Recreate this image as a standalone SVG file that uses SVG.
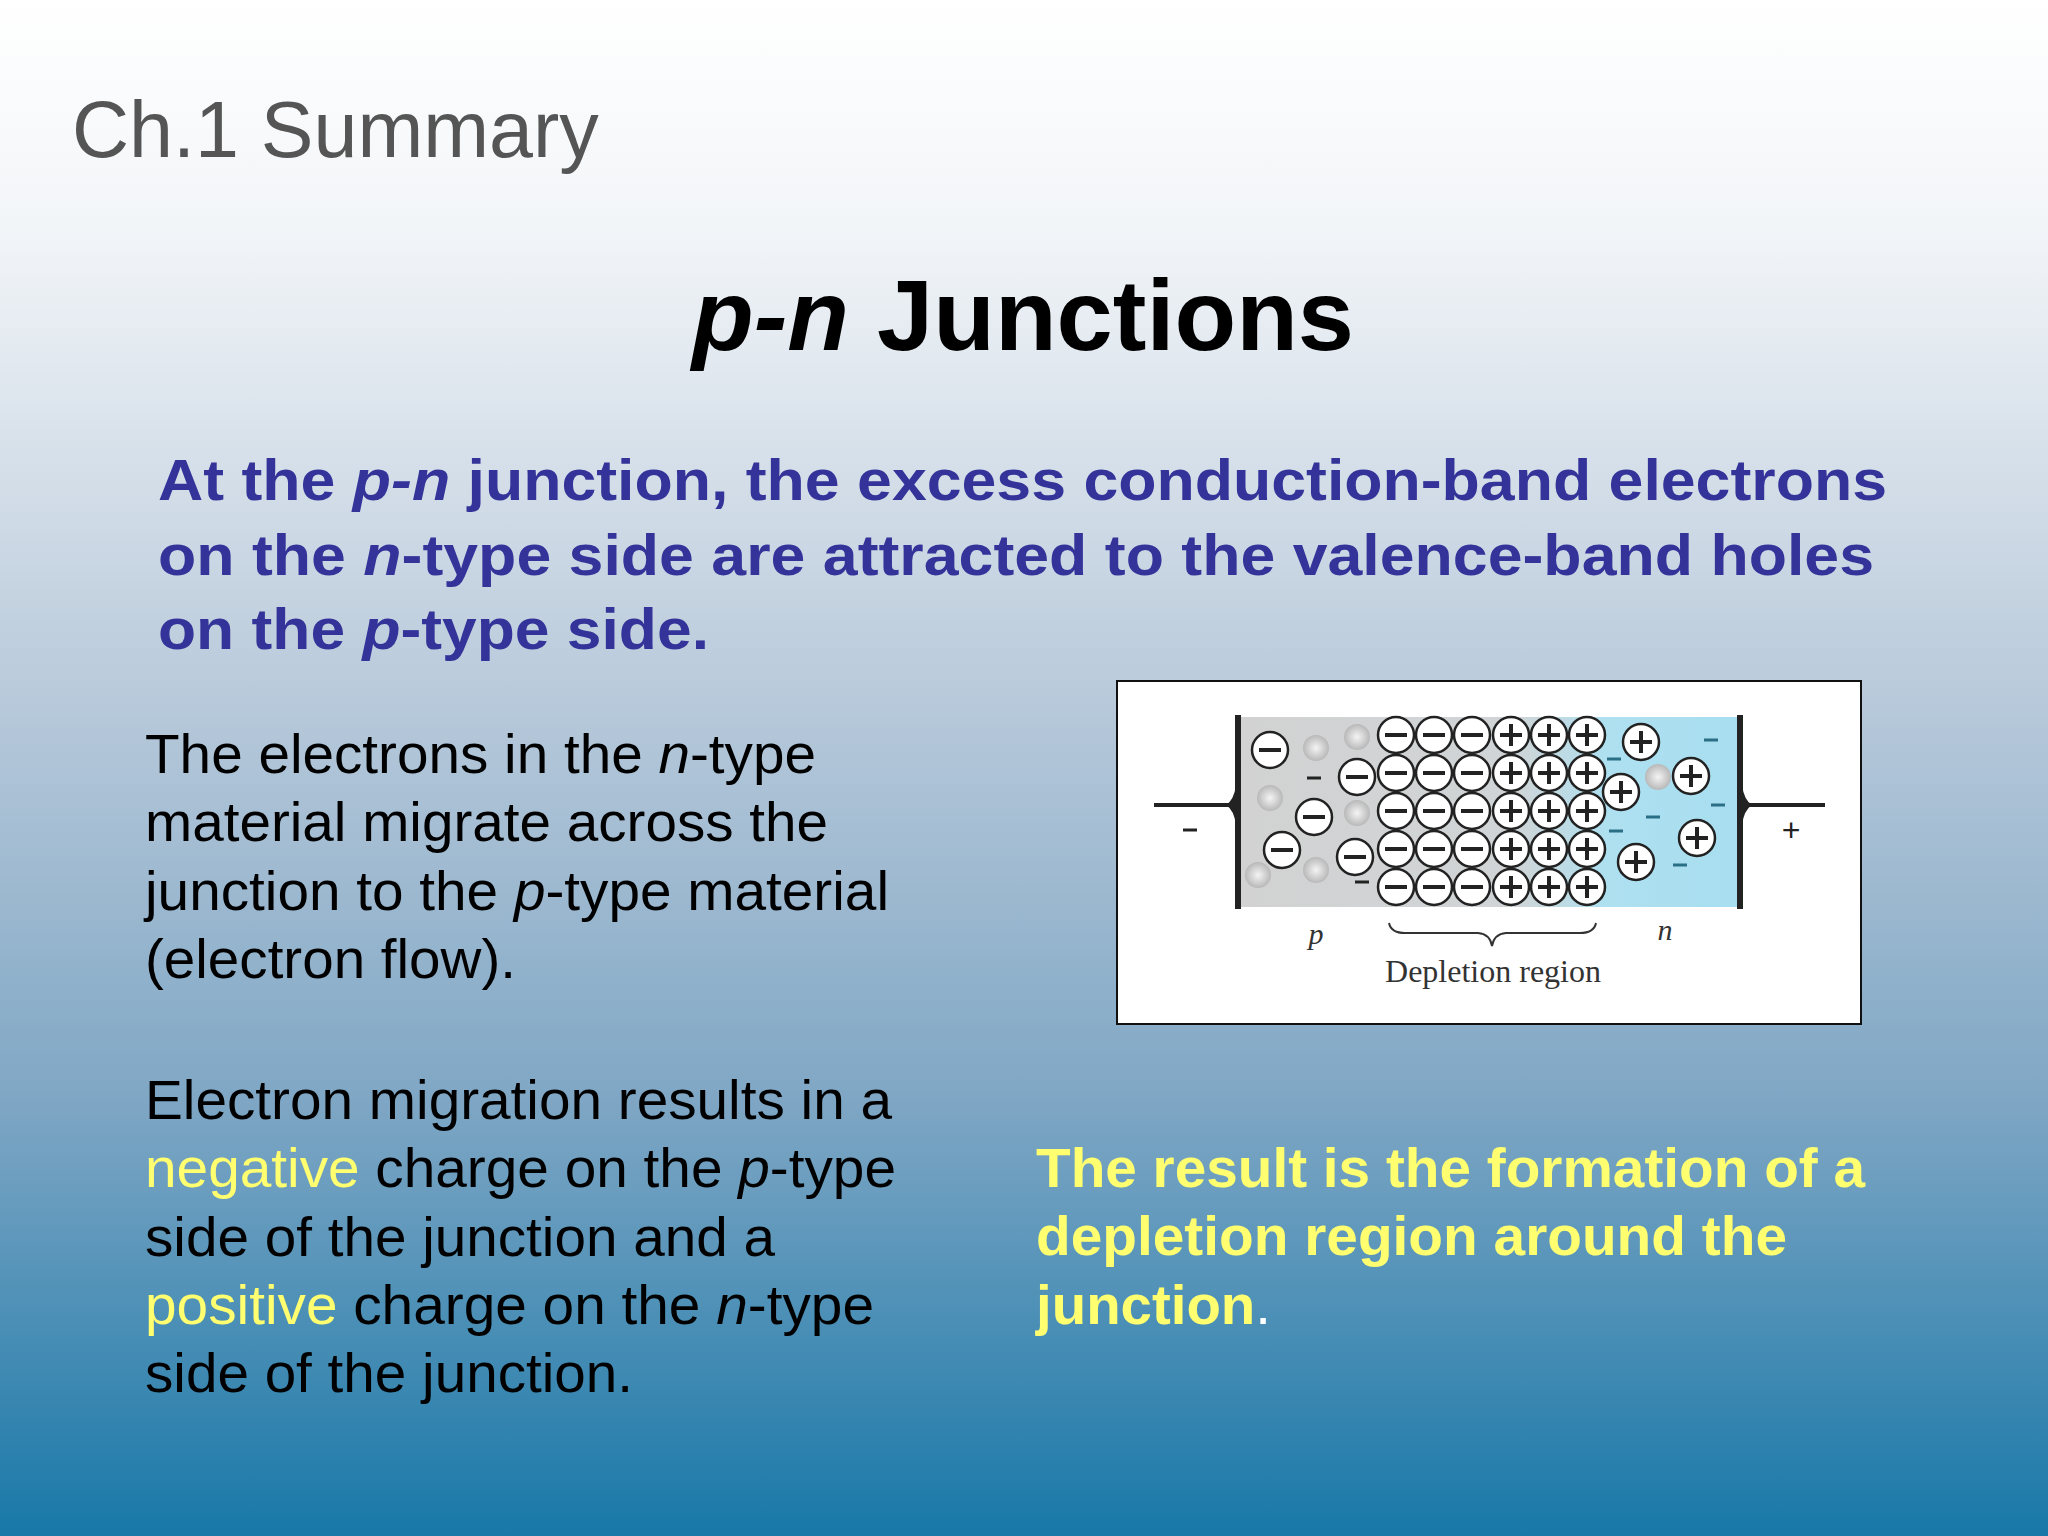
<svg xmlns="http://www.w3.org/2000/svg" xmlns:xlink="http://www.w3.org/1999/xlink" width="2048" height="1536" viewBox="0 0 2048 1536">
<defs>
<linearGradient id="bg" x1="0" y1="0" x2="0" y2="1">
<stop offset="0" stop-color="#ffffff"/><stop offset="0.15" stop-color="#f2f5f8"/><stop offset="0.45" stop-color="#b9cadb"/><stop offset="0.72" stop-color="#7ea6c4"/><stop offset="1" stop-color="#1878a8"/>
</linearGradient>
<linearGradient id="mat" x1="0" y1="0" x2="1" y2="0">
<stop offset="0" stop-color="#d2d2d2"/><stop offset="0.55" stop-color="#d0d4d6"/><stop offset="0.73" stop-color="#aee0f0"/><stop offset="1" stop-color="#a8def0"/>
</linearGradient>
<radialGradient id="hole"><stop offset="0" stop-color="#f4f4f4"/><stop offset="1" stop-color="#b8b8b8"/></radialGradient>
<g id="neg"><circle r="18" fill="#fff" stroke="#222" stroke-width="2.5"/><line x1="-11" y1="0" x2="11" y2="0" stroke="#222" stroke-width="4"/></g>
<g id="pos"><circle r="18" fill="#fff" stroke="#222" stroke-width="2.5"/><line x1="-11" y1="0" x2="11" y2="0" stroke="#222" stroke-width="4"/><line x1="0" y1="-11" x2="0" y2="11" stroke="#222" stroke-width="4"/></g>
<circle id="h" r="13" fill="url(#hole)"/>
<line id="d" x1="-7" y1="0" x2="7" y2="0" stroke="#2a6f86" stroke-width="3"/>
<line id="dk" x1="-7" y1="0" x2="7" y2="0" stroke="#222" stroke-width="3"/>
</defs>
<style>
.s{font-family:"Liberation Sans",Arial,sans-serif}
.b{font-weight:bold}
.blue{fill:#333399;font-size:57px;font-weight:bold}
.blk{fill:#000;font-size:55px}
.yel{fill:#ffff70}
.serif{font-family:"Liberation Serif","Times New Roman",serif;fill:#333}
</style>
<rect width="2048" height="1536" fill="url(#bg)"/>
<text class="s" x="72" y="157" font-size="79" fill="#555">Ch.1 Summary</text>
<text class="s b" x="1023" y="350" font-size="101" text-anchor="middle" fill="#000"><tspan font-style="italic">p-n</tspan> Junctions</text>
<g id="intro" class="s blue">
<text x="158" y="500" textLength="1729" lengthAdjust="spacingAndGlyphs">At the <tspan font-style="italic">p-n</tspan> junction, the excess conduction-band electrons</text>
<text x="158" y="575" textLength="1716" lengthAdjust="spacingAndGlyphs">on the <tspan font-style="italic">n</tspan>-type side are attracted to the valence-band holes</text>
<text x="158" y="649" textLength="551" lengthAdjust="spacingAndGlyphs">on the <tspan font-style="italic">p</tspan>-type side.</text>
</g>
<g id="para1" class="s blk">
<text x="145" y="773" textLength="671" lengthAdjust="spacingAndGlyphs">The electrons in the <tspan font-style="italic">n</tspan>-type</text>
<text x="145" y="841" textLength="683" lengthAdjust="spacingAndGlyphs">material migrate across the</text>
<text x="145" y="910" textLength="744" lengthAdjust="spacingAndGlyphs">junction to the <tspan font-style="italic">p</tspan>-type material</text>
<text x="145" y="978" textLength="371" lengthAdjust="spacingAndGlyphs">(electron flow).</text>
</g>
<g id="para2" class="s blk">
<text x="145" y="1119" textLength="747" lengthAdjust="spacingAndGlyphs">Electron migration results in a</text>
<text x="145" y="1187" textLength="751" lengthAdjust="spacingAndGlyphs"><tspan class="yel">negative</tspan> charge on the <tspan font-style="italic">p</tspan>-type</text>
<text x="145" y="1256" textLength="630" lengthAdjust="spacingAndGlyphs">side of the junction and a</text>
<text x="145" y="1324" textLength="729" lengthAdjust="spacingAndGlyphs"><tspan class="yel">positive</tspan> charge on the <tspan font-style="italic">n</tspan>-type</text>
<text x="145" y="1392" textLength="488" lengthAdjust="spacingAndGlyphs">side of the junction.</text>
</g>
<g id="result" class="s b yel" font-size="55">
<text x="1036" y="1187" textLength="829" lengthAdjust="spacingAndGlyphs">The result is the formation of a</text>
<text x="1036" y="1255" textLength="751" lengthAdjust="spacingAndGlyphs">depletion region around the</text>
<text x="1036" y="1324" textLength="235" lengthAdjust="spacingAndGlyphs">junction<tspan font-weight="normal" fill="#fff">.</tspan></text>
</g>
<g id="figure">
<rect x="1117" y="681" width="744" height="343" fill="#fff" stroke="#111" stroke-width="2"/>
<rect x="1238" y="717" width="502" height="190" fill="url(#mat)"/>
<line x1="1154" y1="805" x2="1238" y2="805" stroke="#222" stroke-width="4"/>
<line x1="1740" y1="805" x2="1825" y2="805" stroke="#222" stroke-width="4"/>
<line x1="1238" y1="715" x2="1238" y2="909" stroke="#222" stroke-width="6"/>
<line x1="1740" y1="715" x2="1740" y2="909" stroke="#222" stroke-width="6"/>
<path d="M1226,805 Q1234,800 1236,785 L1236,825 Q1234,810 1226,805Z" fill="#222"/>
<path d="M1752,805 Q1744,800 1742,785 L1742,825 Q1744,810 1752,805Z" fill="#222"/>
<line x1="1183" y1="830" x2="1197" y2="830" stroke="#222" stroke-width="3"/>
<text x="1791" y="841" font-family="Liberation Sans,Arial,sans-serif" font-size="32" text-anchor="middle" fill="#222">+</text>
<g id="holes">
<use href="#h" x="1316" y="748"/><use href="#h" x="1357" y="737"/><use href="#h" x="1270" y="798"/><use href="#h" x="1357" y="813"/><use href="#h" x="1258" y="875"/><use href="#h" x="1316" y="870"/><use href="#h" x="1658" y="777"/>
</g>
<g id="pions">
<use href="#neg" x="1270" y="750"/><use href="#neg" x="1314" y="817"/><use href="#neg" x="1282" y="850"/><use href="#neg" x="1357" y="777"/><use href="#neg" x="1355" y="857"/>
<use href="#dk" x="1314" y="778"/><use href="#dk" x="1362" y="882"/>
</g>
<g id="grid">
<use href="#neg" x="1396" y="735"/><use href="#neg" x="1434" y="735"/><use href="#neg" x="1472" y="735"/><use href="#pos" x="1511" y="735"/><use href="#pos" x="1549" y="735"/><use href="#pos" x="1587" y="735"/>
<use href="#neg" x="1396" y="773"/><use href="#neg" x="1434" y="773"/><use href="#neg" x="1472" y="773"/><use href="#pos" x="1511" y="773"/><use href="#pos" x="1549" y="773"/><use href="#pos" x="1587" y="773"/>
<use href="#neg" x="1396" y="811"/><use href="#neg" x="1434" y="811"/><use href="#neg" x="1472" y="811"/><use href="#pos" x="1511" y="811"/><use href="#pos" x="1549" y="811"/><use href="#pos" x="1587" y="811"/>
<use href="#neg" x="1396" y="849"/><use href="#neg" x="1434" y="849"/><use href="#neg" x="1472" y="849"/><use href="#pos" x="1511" y="849"/><use href="#pos" x="1549" y="849"/><use href="#pos" x="1587" y="849"/>
<use href="#neg" x="1396" y="887"/><use href="#neg" x="1434" y="887"/><use href="#neg" x="1472" y="887"/><use href="#pos" x="1511" y="887"/><use href="#pos" x="1549" y="887"/><use href="#pos" x="1587" y="887"/>
</g>
<g id="nions">
<use href="#pos" x="1641" y="742"/><use href="#pos" x="1691" y="776"/><use href="#pos" x="1621" y="792"/><use href="#pos" x="1697" y="838"/><use href="#pos" x="1636" y="862"/>
<use href="#d" x="1711" y="740"/><use href="#d" x="1614" y="759"/><use href="#d" x="1718" y="805"/><use href="#d" x="1653" y="817"/><use href="#d" x="1616" y="831"/><use href="#d" x="1680" y="865"/>
</g>
<text class="serif" x="1316" y="944" font-size="30" font-style="italic" text-anchor="middle">p</text>
<text class="serif" x="1665" y="940" font-size="30" font-style="italic" text-anchor="middle">n</text>
<path d="M1389,923 Q1391,933 1405,933 L1478,933 Q1490,934 1492,946 Q1494,934 1506,933 L1580,933 Q1594,933 1596,923" fill="none" stroke="#333" stroke-width="2"/>
<text class="serif" x="1493" y="982" font-size="32" text-anchor="middle">Depletion region</text>
</g>
</svg>
